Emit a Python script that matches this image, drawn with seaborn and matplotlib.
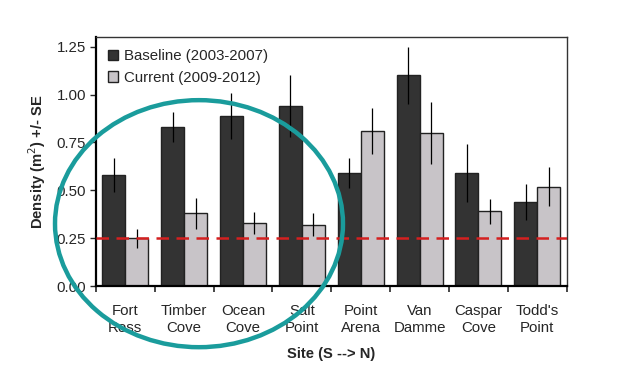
import numpy as np
import pandas as pd
import matplotlib
matplotlib.use('Agg')
import matplotlib.pyplot as plt
from matplotlib.patches import Ellipse
import seaborn as sns

# data
sites = ['Fort\nRoss', 'Timber\nCove', 'Ocean\nCove', 'Salt\nPoint',
         'Point\nArena', 'Van\nDamme', 'Caspar\nCove', "Todd's\nPoint"]
baseline = [0.58, 0.83, 0.89, 0.94, 0.59, 1.10, 0.59, 0.44]
baseline_se = [0.09, 0.08, 0.12, 0.16, 0.08, 0.15, 0.15, 0.095]
current = [0.25, 0.38, 0.33, 0.32, 0.81, 0.80, 0.39, 0.52]
current_se = [0.05, 0.08, 0.058, 0.06, 0.12, 0.16, 0.065, 0.10]
threshold = 0.25

sns.set_style('white')
plt.rcParams['font.family'] = ['Liberation Sans', 'DejaVu Sans']

df = pd.DataFrame({
    'Site': sites * 2,
    'Density': baseline + current,
    'Period': ['Baseline (2003-2007)'] * len(sites) + ['Current (2009-2012)'] * len(sites),
})

fig = plt.figure(figsize=(6.18, 3.83), dpi=100)
ax = fig.add_axes([0.155, 0.253, 0.762, 0.650])

sns.barplot(data=df, x='Site', y='Density', hue='Period',
            palette=['#333333', '#c9c3c9'], width=0.78, gap=0,
            edgecolor='#222222', linewidth=1.0, errorbar=None, ax=ax)

# error bars around the bar tops
for cont, se in zip(ax.containers, [baseline_se, current_se]):
    for bar, e in zip(cont, se):
        xc = bar.get_x() + bar.get_width() / 2
        ax.errorbar(xc, bar.get_height(), yerr=e, color='black',
                    linewidth=0.9, capsize=0)

ax.axhline(threshold, color='#d42020', linestyle=(0, (5, 3)), linewidth=1.8, zorder=5)

fs = 10.8
ax.set_ylim(0, 1.30)
ax.set_yticks([0, 0.25, 0.5, 0.75, 1.0, 1.25])
ax.set_yticklabels(['0.00', '0.25', '0.50', '0.75', '1.00', '1.25'])
ax.set_xlim(-0.5, len(sites) - 0.5)
ax.set_xticks(np.arange(-0.5, len(sites)), minor=True)
ax.tick_params(axis='x', which='major', length=0, labelsize=fs, pad=13)
ax.tick_params(axis='x', which='minor', length=4, width=1.2, direction='out', bottom=True)
ax.tick_params(axis='y', length=4, width=1.0, direction='out', left=True, labelsize=fs, pad=3)
for lab in ax.get_xticklabels():
    lab.set_linespacing(1.3)

for s in ax.spines.values():
    s.set_visible(True)
    s.set_color('#333333')
    s.set_linewidth(1.0)
ax.spines['bottom'].set_linewidth(1.6)
ax.spines['left'].set_linewidth(1.6)
ax.spines['bottom'].set_color('black')
ax.spines['left'].set_color('black')

ax.set_xlabel('Site (S --> N)', fontweight='bold', fontsize=10.6, labelpad=8)
ax.set_ylabel('Density (m$^{2}$) +/- SE', fontweight='bold', fontsize=10.6, labelpad=6)

ax.legend(loc='upper left', frameon=False, fontsize=fs, handlelength=0.7,
          handleheight=0.7, handletextpad=0.4, labelspacing=0.5,
          borderaxespad=0.4)

# teal circle highlighting the southern sites
ell = Ellipse((0.322, 0.416), 0.466, 0.645, transform=fig.transFigure,
              fill=False, edgecolor='#1a9c9c', linewidth=3.2, zorder=10)
fig.patches.append(ell)

fig.savefig('out.png', dpi=100)
